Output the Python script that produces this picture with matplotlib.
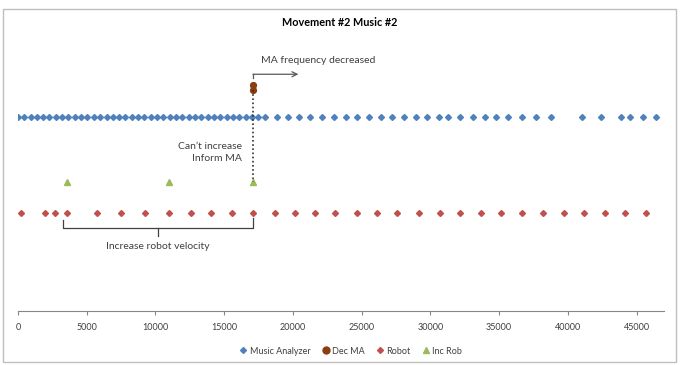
import matplotlib
matplotlib.use("Agg")
import matplotlib.pyplot as plt
from matplotlib.patches import Rectangle
from matplotlib.lines import Line2D

plt.rcParams['font.family'] = ['Lato', 'DejaVu Sans']

# Event timestamps (ms) and the row each series is drawn on
music_analyzer_x = [0, 455, 915, 1370, 1835, 2290, 2755, 3215, 3670, 4140,
                    4600, 5055, 5520, 5975, 6440, 6900, 7355, 7820, 8280, 8735,
                    9200, 9660, 10115, 10580, 11040, 11495, 11960, 12420, 12875, 13340,
                    13800, 14255, 14720, 15180, 15635, 16100, 16560, 17020, 17480, 17940,
                    18840, 19610, 20460, 21260, 22140, 23010, 23860, 24680, 25560, 26410,
                    27240, 28110, 28960, 29790, 30660, 31310, 32140, 33110, 33960, 34790,
                    35630, 36680, 37720, 38790, 41070, 42400, 43840, 44490, 45490, 46390]
music_analyzer_y = [2] * len(music_analyzer_x)

dec_ma_x = [17093, 17093]
dec_ma_y = [2.33, 2.28]

robot_x = [197, 1966, 2694, 3546, 5731, 7479, 9249, 10997, 12577, 14056,
           15564, 17093, 18717, 20174, 21630, 23087, 24667, 26124, 27580, 29153,
           30734, 32190, 33698, 35174, 36682, 38210, 39710, 41167, 42675, 44180, 45660]
robot_y = [1] * len(robot_x)

inc_rob_x = [3546, 10997, 17093]
inc_rob_y = [1.32, 1.32, 1.32]

x_ticks = [0, 5000, 10000, 15000, 20000, 25000, 30000, 35000, 40000, 45000]

W, H = 683, 365
fig = plt.figure(figsize=(W / 100, H / 100), dpi=100)
fig.patch.set_facecolor('white')

left, right, bottom, top = 18, 664, 311, 30
ax = fig.add_axes([left / W, 1 - bottom / H, (right - left) / W, (bottom - top) / H])
ax.set_xlim(0, 47000)
ax.set_ylim(-0.021, 2.906)

blue = '#4F81BD'
brown = '#8B3E0F'
red = '#C0504D'
green = '#9BBB59'

ax.plot(music_analyzer_x, music_analyzer_y, linestyle='none', marker='D',
        markersize=3.0, color=blue, label='Music Analyzer', zorder=3)
ax.plot(robot_x, robot_y, linestyle='none', marker='D', markersize=3.0,
        color=red, label='Robot', zorder=3)
ax.plot(inc_rob_x, inc_rob_y, linestyle='none', marker='^', markersize=4.2,
        color=green, label='Inc Rob', zorder=3)
ax.plot(dec_ma_x, dec_ma_y, linestyle='none', marker='o', markersize=4.2,
        color=brown, label='Dec MA', zorder=4)

# Decision link between the MA decrease and the last robot increase
ax.plot([dec_ma_x[0], inc_rob_x[2]], [dec_ma_y[1], inc_rob_y[2]], linestyle=(0, (1, 1.5)),
        color='#303030', linewidth=1.2, zorder=5)

# Elbow arrow: MA frequency decreased
arrow_c = '#595959'
ax.plot([17093, 17093], [2.405, 2.445], color=arrow_c, linewidth=0.9, zorder=5)
ax.annotate('', xy=(20400, 2.445), xytext=(17093, 2.445),
            arrowprops=dict(arrowstyle='->', color=arrow_c, lw=0.9,
                            shrinkA=0, shrinkB=0, mutation_scale=9))
ax.text(17650, 2.59, 'MA frequency decreased', fontsize=7.5, color='#404040',
        ha='left', va='center')

ax.text(16270, 1.69, 'Can\u2019t increase', fontsize=7.5, color='#404040',
        ha='right', va='center')
ax.text(16270, 1.5625, 'Inform MA', fontsize=7.5, color='#404040',
        ha='right', va='center')

# Bracket under the robot speed-up period
bc = '#404040'
ax.plot([3250, 3250, 17130, 17130], [0.927, 0.84, 0.84, 0.948], color=bc,
        linewidth=0.9, zorder=2)
ax.plot([10210, 10210], [0.84, 0.765], color=bc, linewidth=0.9, zorder=2)
ax.text(10190, 0.656, 'Increase robot velocity', fontsize=7.5, color='#404040',
        ha='center', va='center')

# Axes styling: only the x axis line is shown
for side in ('left', 'right', 'top'):
    ax.spines[side].set_visible(False)
ax.spines['bottom'].set_color('#868686')
ax.spines['bottom'].set_linewidth(0.8)
ax.set_yticks([])
ax.set_xticks(x_ticks)
ax.set_xticklabels([str(t) for t in x_ticks])
ax.tick_params(axis='x', direction='out', length=3, width=0.8, color='#868686',
               labelsize=6.5, labelcolor='#404040', pad=6)
ax.set_facecolor('none')

fig.text(340 / W, 1 - 22 / H, 'Movement #2 Music #2', fontsize=7.8, fontweight='bold',
         ha='center', va='center', color='black')

handles = [
    Line2D([], [], linestyle='none', marker='D', markersize=3.0, color=blue),
    Line2D([], [], linestyle='none', marker='o', markersize=5, color=brown),
    Line2D([], [], linestyle='none', marker='D', markersize=3.0, color=red),
    Line2D([], [], linestyle='none', marker='^', markersize=4.2, color=green),
]
fig.legend(handles, ['Music Analyzer', 'Dec MA', 'Robot', 'Inc Rob'],
           loc='center', bbox_to_anchor=(351 / W, 1 - 351 / H), ncol=4,
           frameon=False, fontsize=6.5, handlelength=0.8, handletextpad=0.3,
           columnspacing=1.3, labelcolor='#404040')

# Chart-area frame
fig.patches.append(Rectangle((3 / W, 1 - 362 / H), 673 / W, 353 / H,
                             transform=fig.transFigure, fill=False,
                             edgecolor='#BFBFBF', linewidth=1.0))

fig.savefig('out.png', dpi=100, facecolor='white')
